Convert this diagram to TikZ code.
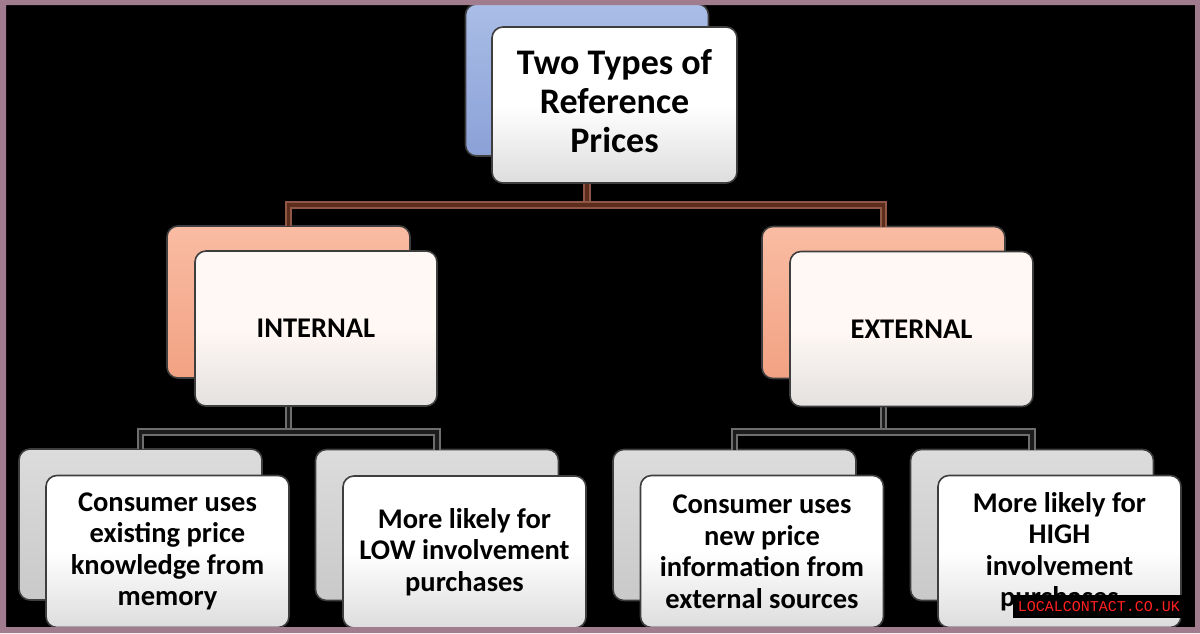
\documentclass[tikz,border=0pt]{standalone}
\usepackage{fontspec}
\setmainfont{Carlito}
\newfontfamily\wmfont{Liberation Mono}
\definecolor{frameC}{HTML}{A07C8E}
\definecolor{blueT}{HTML}{AABDE7}
\definecolor{blueB}{HTML}{8BA1D7}
\definecolor{salT}{HTML}{F9BCA3}
\definecolor{salB}{HTML}{F2A283}
\definecolor{greyT}{HTML}{DCDCDC}
\definecolor{greyB}{HTML}{C9C9C9}
\definecolor{frontB}{HTML}{DDDDDD}
\definecolor{warmW}{HTML}{FFF8F4}
\definecolor{warmB}{HTML}{E4E1E0}
\definecolor{edgeC}{HTML}{3E3E3E}
\definecolor{brownO}{HTML}{8E5844}
\definecolor{brownI}{HTML}{5C2D1D}
\definecolor{greyO}{HTML}{6E6E6E}
\definecolor{greyI}{HTML}{1C1C1C}
\definecolor{wmred}{HTML}{FF2020}
\tikzset{
  box/.style={rectangle, rounded corners=11pt, draw=edgeC, line width=1.6pt, inner sep=0pt, outer sep=0pt, minimum width=243pt},
  backblue/.style={box, top color=blueT, bottom color=blueB, minimum height=152pt},
  backsal/.style={box, top color=salT, bottom color=salB, minimum height=152pt},
  backgrey/.style={box, top color=greyT, bottom color=greyB, minimum height=151pt},
  fronttop/.style={box, top color=white, bottom color=frontB, middle color=white, minimum height=156pt, text=black, align=center, font=\fontsize{36}{40}\selectfont\bfseries},
  frontmid/.style={box, top color=warmW, bottom color=warmB, middle color=warmW, minimum height=155pt, text=black, align=center, font=\fontsize{28.5}{32}\selectfont\bfseries},
  frontbot/.style={box, top color=white, bottom color=frontB, middle color=white, minimum height=152pt, text=black, align=center, font=\fontsize{28.5}{31.5}\selectfont\bfseries},
  connB/.style={draw=brownO, double=brownI, line width=2.2pt, double distance=3.2pt},
  connG/.style={draw=greyO, double=greyI, line width=2pt, double distance=3.5pt},
}
\begin{document}
\begin{tikzpicture}[x=1pt, y=-1pt]
\useasboundingbox (0,0) rectangle (1200,633);
\fill[black] (0,0) rectangle (1200,633);
% back boxes
\node[backblue] (topb) at (587,80) {};
\node[backsal] (intb) at (288.5,302) {};
\node[backsal] (extb) at (883.5,302.5) {};
\node[backgrey] (b1b) at (140.5,524.5) {};
\node[backgrey] (b2b) at (437,525) {};
\node[backgrey] (b3b) at (734.5,525) {};
\node[backgrey] (b4b) at (1032,525) {};
% junction coordinates
\coordinate (tj) at (587,205);
\coordinate (ij) at (288.5,432);
\coordinate (ej) at (883.5,432);
% connectors
\draw[connB] (topb.center |- tj) ++(0,-24) -- (tj);
\draw[connB] (tj) -| (intb.north);
\draw[connB] (tj) -| (extb.north);
\draw[connG] (ij) ++(0,-26) -- (ij);
\draw[connG] (ij) -| (b1b.north);
\draw[connG] (ij) -| (b2b.north);
\draw[connG] (ej) ++(0,-26) -- (ej);
\draw[connG] (ej) -| (b3b.north);
\draw[connG] (ej) -| (b4b.north);
% front boxes
\node[fronttop, minimum width=245pt] (topf) at (614.5,105) {\raisebox{4pt}{\begin{tabular}{@{}c@{}}Two Types of\\[-1pt]Reference\\[-1pt]Prices\end{tabular}}};
\node[frontmid, minimum width=242pt] (intf) at (316,328.5) {INTERNAL};
\node[frontmid] (extf) at (911.5,329) {EXTERNAL};
\node[frontbot] (b1f) at (167.5,551.5) {Consumer uses\\existing price\\knowledge from\\memory};
\node[frontbot] (b2f) at (464.5,552) {More likely for\\LOW involvement\\purchases};
\node[frontbot] (b3f) at (762,551.5) {Consumer uses\\new price\\information from\\external sources};
\node[frontbot] (b4f) at (1059.5,551.5) {More likely for\\HIGH\\involvement\\purchases};
% frame
\fill[frameC, even odd rule] (0,0) rectangle (1200,633) (6,5) rectangle (1195,627);
% watermark
\node[fill=black, text=wmred, inner sep=0pt, minimum width=172pt, minimum height=23pt, font=\wmfont\fontsize{15}{16}\selectfont] (wm) at (1099,606.5) {LOCALCONTACT.CO.UK};
\end{tikzpicture}
\end{document}
